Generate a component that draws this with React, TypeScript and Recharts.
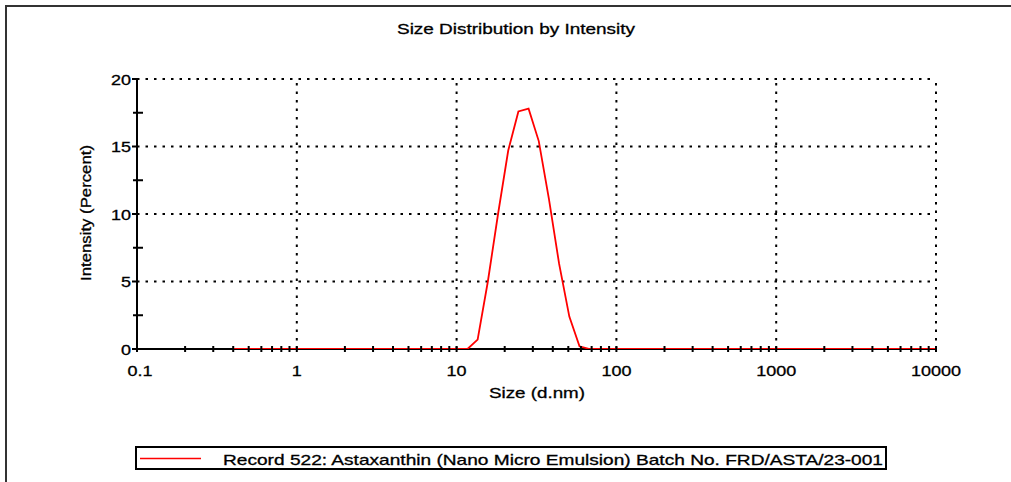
import React from 'react';
import { LineChart, Line, XAxis, YAxis, ReferenceLine } from 'recharts';

const sizes = [
  0.4, 0.4632, 0.5365, 0.6213, 0.7195, 0.8332, 0.9649, 1.117, 1.294, 1.499,
  1.736, 2.01, 2.328, 2.696, 3.122, 3.615, 4.187, 4.849, 5.615, 6.503,
  7.531, 8.721, 10.1, 11.7, 13.54, 15.69, 18.17, 21.04, 24.36, 28.21,
  32.67, 37.84, 43.82, 50.75, 58.77, 68.06, 78.82, 91.28, 105.7, 122.4,
  141.8, 164.2, 190.1, 220.2, 255.0, 295.3, 342.0, 396.1, 458.7, 531.2,
  615.1, 712.4, 825.0, 955.4, 1106, 1281, 1484, 1718, 1990, 2305,
  2669, 3091, 3580, 4145, 4801, 5560, 6439, 7456, 8635, 10000,
];

const intensity = [
  0, 0, 0, 0, 0, 0, 0, 0, 0, 0,
  0, 0, 0, 0, 0, 0, 0, 0, 0, 0,
  0, 0, 0, 0, 0.7, 5.0, 10.0, 14.7, 17.6, 17.8,
  15.4, 11.1, 6.3, 2.4, 0.2, 0, 0, 0, 0, 0,
  0, 0, 0, 0, 0, 0, 0, 0, 0, 0,
  0, 0, 0, 0, 0, 0, 0, 0, 0, 0,
  0, 0, 0, 0, 0, 0, 0, 0, 0, 0,
];

const xMajorTicks = [0.1, 1, 10, 100, 1000, 10000];
const xMinorTicks = [
  0.2, 0.3, 0.4, 0.5, 0.6, 0.7, 0.8, 0.9,
  2, 3, 4, 5, 6, 7, 8, 9,
  20, 30, 40, 50, 60, 70, 80, 90,
  200, 300, 400, 500, 600, 700, 800, 900,
  2000, 3000, 4000, 5000, 6000, 7000, 8000, 9000,
];
const yMajorTicks = [0, 5, 10, 15, 20];
const yMinorTicks = [2.5, 7.5, 12.5, 17.5];
const xGrid = [1, 10, 100, 1000, 10000];
const yGrid = [5, 10, 15, 20];

const titleText = 'Size Distribution by Intensity';
const xLabelText = 'Size (d.nm)';
const yLabelText = 'Intensity (Percent)';
const legendText = 'Record 522: Astaxanthin (Nano Micro Emulsion)  Batch No. FRD/ASTA/23-001';

const data = sizes.map((s, i) => ({ size: s, intensity: intensity[i] }));

const FONT = '"Liberation Sans", Arial, Helvetica, sans-serif';

const XTick = (props: any) => {
  const { x, y, payload } = props;
  const v = payload.value;
  const major = xMajorTicks.includes(v);
  return (
    <g>
      <line x1={x} x2={x} y1={y - 3} y2={y + 3} stroke="#000" strokeWidth={2} />
      {major && (
        <text
          transform={`translate(${x + (v === 0.1 ? 3 : 0)},${y + 27}) scale(1.2,1)`}
          textAnchor="middle"
          fontSize={15}
          fontFamily={FONT}
          fill="#000"
          stroke="#000"
          strokeWidth={0.3}
        >
          {String(v)}
        </text>
      )}
    </g>
  );
};

const YTick = (props: any) => {
  const { x, y, payload } = props;
  const v = payload.value;
  const major = yMajorTicks.includes(v);
  return (
    <g>
      {major ? (
        <line x1={x - 5} x2={x} y1={y} y2={y} stroke="#000" strokeWidth={2} />
      ) : (
        <line x1={x - 4} x2={x + 6} y1={y} y2={y} stroke="#000" strokeWidth={2} />
      )}
      {major && (
        <text
          transform={`translate(${x - 6},${y + 5.5}) scale(1.2,1)`}
          textAnchor="end"
          fontSize={15}
          fontFamily={FONT}
          fill="#000"
          stroke="#000"
          strokeWidth={0.3}
        >
          {String(v)}
        </text>
      )}
    </g>
  );
};

export default function App() {
  const allX = [...xMajorTicks, ...xMinorTicks].sort((a, b) => a - b);
  const allY = [...yMajorTicks, ...yMinorTicks].sort((a, b) => a - b);
  return (
    <div style={{ position: 'absolute', left: 0, top: 0, width: 1011, height: 482, background: '#fff', overflow: 'hidden' }}>
      <div
        style={{
          position: 'absolute',
          left: 5,
          top: 5,
          width: 1100,
          height: 600,
          borderTop: '2px solid #333',
          borderLeft: '2px solid #333',
          boxSizing: 'border-box',
        }}
      />
      <div style={{ position: 'absolute', left: 0, top: 0 }}>
        <LineChart
          width={1011}
          height={482}
          data={data}
          margin={{ top: 79, right: 75, bottom: 93, left: 77 }}
        >
          {xGrid.map((v) => (
            <ReferenceLine key={'gx' + v} x={v} stroke="#000" strokeWidth={2} strokeDasharray="2.5 6" />
          ))}
          {yGrid.map((v) => (
            <ReferenceLine key={'gy' + v} y={v} stroke="#000" strokeWidth={2} strokeDasharray="2.5 6" />
          ))}
          <ReferenceLine y={0} stroke="#000" strokeWidth={2} />
          <ReferenceLine x={0.1} stroke="#000" strokeWidth={2} />
          <XAxis
            dataKey="size"
            type="number"
            scale="log"
            domain={[0.1, 10000]}
            ticks={allX}
            interval={0}
            height={40}
            tickSize={0}
            tickMargin={0}
            tickLine={false}
            tick={<XTick />}
            axisLine={false}
            allowDataOverflow
          />
          <YAxis
            type="number"
            domain={[0, 20]}
            ticks={allY}
            interval={0}
            width={60}
            tickSize={0}
            tickMargin={0}
            tickLine={false}
            tick={<YTick />}
            axisLine={false}
            allowDataOverflow
          />
          <Line
            type="linear"
            dataKey="intensity"
            stroke="#ff0000"
            strokeWidth={1.8}
            dot={false}
            activeDot={false}
            isAnimationActive={false}
          />
        </LineChart>
      </div>
      <svg
        width={1011}
        height={482}
        style={{ position: 'absolute', left: 0, top: 0, pointerEvents: 'none' }}
        fontFamily={FONT}
      >
        <text x={516} y={34} textAnchor="middle" fontSize={15} textLength={238} lengthAdjust="spacingAndGlyphs" fill="#000" stroke="#000" strokeWidth={0.3}>
          {titleText}
        </text>
        <text x={537} y={398} textAnchor="middle" fontSize={15} textLength={96} lengthAdjust="spacingAndGlyphs" fill="#000" stroke="#000" strokeWidth={0.3}>
          {xLabelText}
        </text>
        <text
          transform="translate(91,213) rotate(-90)"
          textAnchor="middle"
          fontSize={15}
          textLength={136}
          lengthAdjust="spacingAndGlyphs"
          fill="#000"
          stroke="#000"
          strokeWidth={0.3}
        >
          {yLabelText}
        </text>
        <rect x={136} y={447} width={750} height={22} fill="none" stroke="#000" strokeWidth={2} />
        <line x1={140} x2={201} y1={458.5} y2={458.5} stroke="#ff0000" strokeWidth={1.6} />
        <text x={223} y={464.5} fontSize={15} textLength={660} lengthAdjust="spacingAndGlyphs" fill="#000" stroke="#000" strokeWidth={0.3}>
          {legendText}
        </text>
      </svg>
    </div>
  );
}
